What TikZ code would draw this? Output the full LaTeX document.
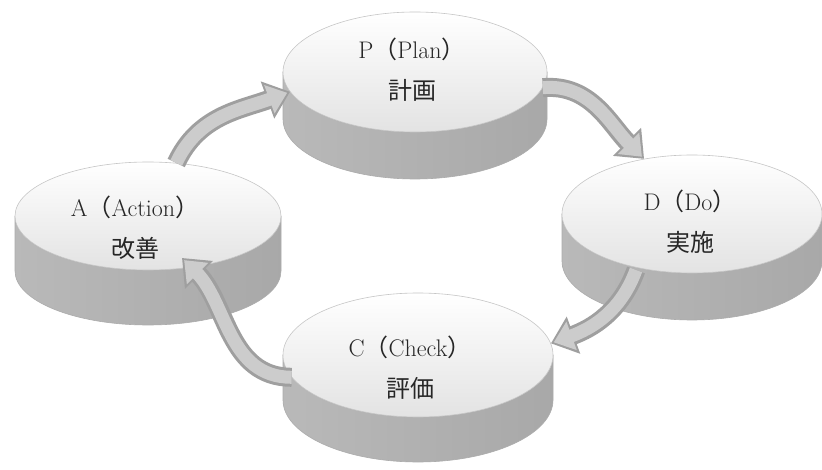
\documentclass[tikz,border=0pt]{standalone}
\usepackage{fontspec}
\newfontfamily\cjk{Noto Sans CJK JP}
\usetikzlibrary{shapes.geometric,arrows.meta}
\tikzset{
  sideface/.style={left color=gray!55, middle color=gray!82, right color=gray!68, draw=gray!65, line width=0.6pt},
  topface/.style={ellipse, inner sep=0pt, top color=white, bottom color=gray!22, draw=gray!45, line width=0.6pt},
  labeltext/.style={align=center, font=\fontsize{24}{41}\selectfont, text=black!85},
  flowout/.style={draw=gray!75, line width=19pt, -{Triangle[length=24pt,width=38pt]}},
  flowin/.style={draw=gray!40, line width=13pt, -{Triangle[length=19pt,width=29pt]}, shorten >=3pt},
}
\newcommand\pdcadisc[6]{%
  \path[sideface] (#2-#4,#3) -- (#2-#4,#3+#6)
     arc[start angle=180,end angle=360,x radius=#4pt,y radius=#5pt]
     -- (#2+#4,#3)
     arc[start angle=0,end angle=-180,x radius=#4pt,y radius=#5pt] -- cycle;
  \node[topface, minimum width=2*#4pt, minimum height=2*#5pt] (#1) at (#2,#3) {};
}
\newcommand\pdcaflow[3]{%
  \draw[flowout] (#1) to[#3] (#2);
  \draw[flowin] (#1) to[#3] (#2);
}
\begin{document}
\begin{tikzpicture}[x=1pt,y=-1pt]
\useasboundingbox[fill=white] (0,0) rectangle (822,470);
% discs
\pdcadisc{P}{415}{72}{132}{60}{47}
\pdcadisc{A}{148}{216}{133}{54}{55}
\pdcadisc{D}{692}{214}{130}{59}{47}
\pdcadisc{C}{418}{355}{135}{62}{45}
% labels
\node[labeltext] (Pt) at (412,70) {P{\cjk （}Plan{\cjk ）}\\{\cjk 計画}};
\node[labeltext] (At) at (135,228) {A{\cjk （}Action{\cjk ）}\\{\cjk 改善}};
\node[labeltext] (Dt) at (690,222) {D{\cjk （}Do{\cjk ）}\\{\cjk 実施}};
\node[labeltext] (Ct) at (410,368) {C{\cjk （}Check{\cjk ）}\\{\cjk 評価}};
% connectors
\coordinate (dstart) at (636,270);
\coordinate (atip) at (182,258);
\pdcaflow{A.62}{P.189}{out=65,in=200}
\pdcaflow{P.353}{D.131}{out=5,in=135}
\pdcaflow{dstart}{C.5}{out=250,in=20}
\pdcaflow{C.190}{atip}{out=180,in=-45}
\end{tikzpicture}
\end{document}
